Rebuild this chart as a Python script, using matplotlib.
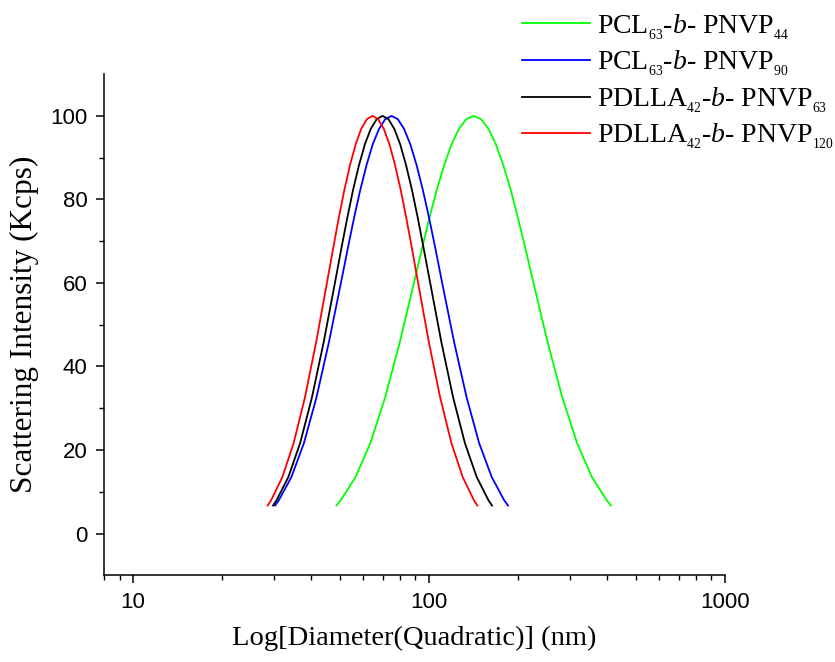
import matplotlib

matplotlib.use("Agg")
import matplotlib.pyplot as plt
from matplotlib.ticker import FixedLocator, LogLocator, NullFormatter

# diameters (nm) and scattering intensity (Kcps)
pcl_pnvp44_d = [48.64, 50.33, 56.47, 63.34, 71.07, 79.72, 89.44, 94.76, 100.3, 106.3, 112.6,
                119.3, 126.3, 133.8, 141.7, 150.1, 159.0, 168.4, 178.4, 189.0, 200.1, 212.0,
                224.5, 251.9, 282.6, 317.0, 355.6, 399.0, 412.9]
pcl_pnvp44_i = [6.7, 7.95, 13.5, 21.6, 32.5, 45.8, 60.65, 68.2, 75.5, 82.27, 88.2, 93.2, 96.9,
                99.22, 100, 99.22, 96.9, 93.2, 88.2, 82.27, 75.5, 68.2, 60.65, 45.8, 32.5,
                21.6, 13.5, 7.95, 6.7]

pcl_pnvp90_d = [30.20, 31.10, 34.28, 37.79, 41.65, 45.92, 50.63, 53.17, 55.81, 58.61, 61.52,
                64.59, 67.83, 71.20, 74.77, 78.52, 82.41, 86.53, 90.87, 95.39, 100.2, 105.2,
                110.4, 121.7, 134.2, 147.9, 163.1, 179.7, 185.1]
pcl_pnvp90_i = [6.7, 7.95, 13.5, 21.6, 32.5, 45.8, 60.65, 68.2, 75.5, 82.27, 88.2, 93.2, 96.9,
                99.22, 100, 99.22, 96.9, 93.2, 88.2, 82.27, 75.5, 68.2, 60.65, 45.8, 32.5,
                21.6, 13.5, 7.95, 6.7]

pdlla_pnvp63_d = [29.72, 30.55, 33.48, 36.69, 40.21, 44.08, 48.31, 50.57, 52.95, 55.41, 58.03,
                  60.75, 63.59, 66.58, 69.69, 72.96, 76.38, 79.97, 83.71, 87.64, 91.75, 96.05,
                  100.6, 110.2, 120.8, 132.4, 145.1, 159.0, 163.4]
pdlla_pnvp63_i = [6.7, 7.95, 13.5, 21.6, 32.5, 45.8, 60.65, 68.2, 75.5, 82.27, 88.2, 93.2, 96.9,
                  99.22, 100, 99.22, 96.9, 93.2, 88.2, 82.27, 75.5, 68.2, 60.65, 45.8, 32.5,
                  21.6, 13.5, 7.95, 6.7]

pdlla_pnvp120_d = [28.52, 29.28, 31.96, 34.88, 38.08, 41.57, 45.39, 47.44, 49.55, 51.78, 54.10,
                   56.54, 59.06, 61.72, 64.48, 67.38, 70.39, 73.55, 76.85, 80.30, 83.90, 87.66,
                   91.59, 99.98, 109.2, 119.2, 130.1, 142.0, 145.8]
pdlla_pnvp120_i = [6.7, 7.95, 13.5, 21.6, 32.5, 45.8, 60.65, 68.2, 75.5, 82.27, 88.2, 93.2, 96.9,
                   99.22, 100, 99.22, 96.9, 93.2, 88.2, 82.27, 75.5, 68.2, 60.65, 45.8, 32.5,
                   21.6, 13.5, 7.95, 6.7]

labels = [
    r"PCL$_{_{63}}$-$\mathit{b}$- PNVP$_{_{44}}$",
    r"PCL$_{_{63}}$-$\mathit{b}$- PNVP$_{_{90}}$",
    r"PDLLA$_{_{42}}$-$\mathit{b}$- PNVP$_{_{63}}$",
    r"PDLLA$_{_{42}}$-$\mathit{b}$- PNVP$_{_{120}}$",
]
colors = ["#00ff00", "#0000ff", "#000000", "#ff0000"]

plt.rcParams["mathtext.fontset"] = "custom"
plt.rcParams["mathtext.rm"] = "Liberation Serif"
plt.rcParams["mathtext.it"] = "Liberation Serif:italic"

fig = plt.figure(figsize=(8.35, 6.62), dpi=100)
ax = fig.add_axes([0.125, 0.131, 0.743, 0.757])

series = [
    (pcl_pnvp44_d, pcl_pnvp44_i),
    (pcl_pnvp90_d, pcl_pnvp90_i),
    (pdlla_pnvp63_d, pdlla_pnvp63_i),
    (pdlla_pnvp120_d, pdlla_pnvp120_i),
]
for (d, inten), lab, col in zip(series, labels, colors):
    ax.plot(d, inten, color=col, linewidth=1.3, label=lab)

ax.set_xscale("log")
ax.set_xlim(8, 1000)
ax.set_ylim(-10, 110)
ax.set_yticks([0, 20, 40, 60, 80, 100])
ax.yaxis.set_minor_locator(FixedLocator([10, 30, 50, 70, 90]))
ax.xaxis.set_major_locator(FixedLocator([10, 100, 1000]))
ax.xaxis.set_minor_locator(LogLocator(base=10, subs=range(2, 10)))
ax.xaxis.set_minor_formatter(NullFormatter())
ax.set_xticklabels(["10", "100", "1000"])

for side in ["top", "right"]:
    ax.spines[side].set_visible(False)
for side in ["left", "bottom"]:
    ax.spines[side].set_linewidth(1.1)

ax.tick_params(which="major", direction="out", length=6, width=1.1, pad=6,
               labelsize=16, labelfontfamily="Liberation Sans")
ax.tick_params(which="minor", direction="out", length=3.5, width=1.0)

ax.set_xlabel("Log[Diameter(Quadratic)] (nm)", family="Liberation Serif", fontsize=20.5, labelpad=9)
ax.set_ylabel("Scattering Intensity (Kcps)", family="Liberation Serif", fontsize=22.5, labelpad=8)

leg = ax.legend(loc="upper left", bbox_to_anchor=(0.655, 1.146), frameon=False,
                prop={"family": "Liberation Serif", "size": 20},
                handlelength=2.45, handletextpad=0.25, labelspacing=0.25, borderaxespad=0)

fig.savefig("out.png", dpi=100)
